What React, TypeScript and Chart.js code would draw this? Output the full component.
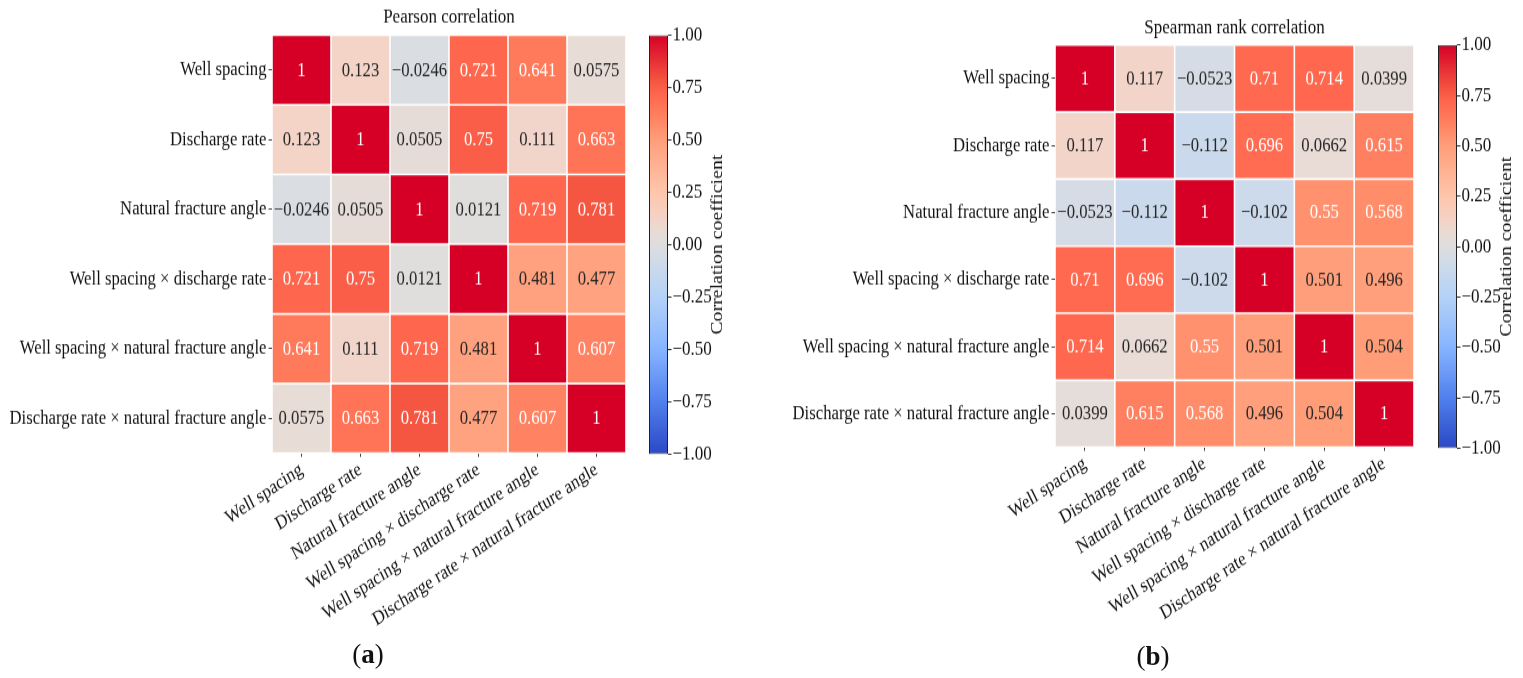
import React, { useEffect, useRef } from 'react';
import { Chart, registerables } from 'chart.js';

Chart.register(...registerables);

const FONT = '"Liberation Serif", "Times New Roman", serif';
Chart.defaults.font.family = FONT;

// ---------- data ----------
const variables = [
  'Well spacing',
  'Discharge rate',
  'Natural fracture angle',
  'Well spacing × discharge rate',
  'Well spacing × natural fracture angle',
  'Discharge rate × natural fracture angle',
];

const pearsonWellSpacing = [1, 0.123, -0.0246, 0.721, 0.641, 0.0575];
const pearsonDischarge = [0.123, 1, 0.0505, 0.75, 0.111, 0.663];
const pearsonFractureAngle = [-0.0246, 0.0505, 1, 0.0121, 0.719, 0.781];
const pearsonSpacingXDischarge = [0.721, 0.75, 0.0121, 1, 0.481, 0.477];
const pearsonSpacingXAngle = [0.641, 0.111, 0.719, 0.481, 1, 0.607];
const pearsonDischargeXAngle = [0.0575, 0.663, 0.781, 0.477, 0.607, 1];

const spearmanWellSpacing = [1, 0.117, -0.0523, 0.71, 0.714, 0.0399];
const spearmanDischarge = [0.117, 1, -0.112, 0.696, 0.0662, 0.615];
const spearmanFractureAngle = [-0.0523, -0.112, 1, -0.102, 0.55, 0.568];
const spearmanSpacingXDischarge = [0.71, 0.696, -0.102, 1, 0.501, 0.496];
const spearmanSpacingXAngle = [0.714, 0.0662, 0.55, 0.501, 1, 0.504];
const spearmanDischargeXAngle = [0.0399, 0.615, 0.568, 0.496, 0.504, 1];

const pearson = [
  pearsonWellSpacing,
  pearsonDischarge,
  pearsonFractureAngle,
  pearsonSpacingXDischarge,
  pearsonSpacingXAngle,
  pearsonDischargeXAngle,
];
const spearman = [
  spearmanWellSpacing,
  spearmanDischarge,
  spearmanFractureAngle,
  spearmanSpacingXDischarge,
  spearmanSpacingXAngle,
  spearmanDischargeXAngle,
];

const colorbarRange = [-1, 1];
const colorbarStep = 0.25;
const colorbarLabel = 'Correlation coefficient';

// ---------- colour map (coolwarm-like, as seen in the figure) ----------
const cmapStops: [number, number[]][] = [
  [-1.0, [43, 72, 196]],
  [-0.75, [80, 128, 238]],
  [-0.5, [135, 180, 255]],
  [-0.25, [180, 210, 248]],
  [-0.1, [204, 218, 235]],
  [0.0, [222, 222, 222]],
  [0.06, [232, 220, 214]],
  [0.12, [243, 212, 200]],
  [0.25, [255, 198, 172]],
  [0.5, [255, 158, 122]],
  [0.64, [255, 122, 90]],
  [0.72, [255, 102, 78]],
  [0.78, [245, 86, 66]],
  [1.0, [214, 0, 38]],
];

function colorFor(v: number): string {
  const x = Math.max(-1, Math.min(1, v));
  for (let i = 0; i < cmapStops.length - 1; i++) {
    const [a, ca] = cmapStops[i];
    const [b, cb] = cmapStops[i + 1];
    if (x >= a && x <= b) {
      const t = (x - a) / (b - a);
      const c = ca.map((k, j) => Math.round(k + (cb[j] - k) * t));
      return `rgb(${c[0]},${c[1]},${c[2]})`;
    }
  }
  const c = cmapStops[cmapStops.length - 1][1];
  return `rgb(${c[0]},${c[1]},${c[2]})`;
}

function fmtCell(v: number): string {
  return String(Number(v.toPrecision(3))).replace('-', '−');
}

function fmtTick(v: number): string {
  return v.toFixed(2).replace('-', '−');
}

// the original figure is stretched vertically; canvases are drawn compressed and stretched by CSS
const STRETCH = 1.19;
const CANVAS_H = 540;

// ---------- components ----------
type HeatGeom = {
  canvasLeft: number;
  canvasW: number;
  left: number;
  right: number;
  top: number;
  bottom: number;
  titleCenter: number;
};

function Heatmap({ title, matrix, g }: { title: string; matrix: number[][]; g: HeatGeom }) {
  const ref = useRef<HTMLCanvasElement>(null);
  useEffect(() => {
    const canvas = ref.current!;
    const titleSize = 17;
    const titleLH = titleSize * 1.2;
    const top = g.top / STRETCH;
    const bottom = g.bottom / STRETCH;
    const padTop = g.titleCenter / STRETCH - titleLH / 2;
    const padBottom = top - padTop - titleLH;

    const datasets = matrix.map((row, r) => ({
      label: variables[r],
      data: row.map(() => [r - 0.5, r + 0.5]),
      backgroundColor: row.map((v) => colorFor(v)),
      borderColor: '#ffffff',
      borderWidth: 0.8,
      borderSkipped: false,
      inflateAmount: 0,
      barPercentage: 1,
      categoryPercentage: 1,
      grouped: false,
    }));

    const cellLabels = {
      id: 'cellLabels',
      afterDatasetsDraw(chart: any) {
        const { ctx } = chart;
        const xs = chart.scales.x;
        const ys = chart.scales.y;
        ctx.save();
        ctx.font = `16.7px ${FONT}`;
        ctx.textAlign = 'center';
        ctx.textBaseline = 'middle';
        matrix.forEach((row, r) =>
          row.forEach((v, c) => {
            ctx.fillStyle = Math.abs(v) > 0.53 ? '#ffffff' : '#262626';
            ctx.fillText(fmtCell(v), xs.getPixelForValue(c), ys.getPixelForValue(r) + 0.5);
          })
        );
        ctx.restore();
      },
    };

    const chart = new Chart(canvas, {
      type: 'bar',
      data: { labels: variables, datasets: datasets as any },
      options: {
        responsive: false,
        animation: false,
        events: [],
        layout: { padding: { left: 0, right: g.canvasW - g.right, top: 0, bottom: 0 } },
        plugins: {
          legend: { display: false },
          tooltip: { enabled: false },
          title: {
            display: true,
            text: title,
            fullSize: false,
            color: '#111',
            font: { size: titleSize, weight: 'normal', lineHeight: 1.2 },
            padding: { top: padTop, bottom: padBottom },
          },
        },
        scales: {
          x: {
            type: 'category',
            offset: true,
            afterFit: (s: any) => {
              s.height = CANVAS_H - bottom;
            },
            ticks: {
              autoSkip: false,
              minRotation: 30,
              maxRotation: 30,
              color: '#111',
              padding: 1,
              font: { size: 16.7 },
            },
            grid: { offset: false, drawOnChartArea: false, tickLength: 3, color: '#444', lineWidth: 1 },
            border: { display: false },
          },
          y: {
            type: 'linear',
            reverse: true,
            min: -0.5,
            max: 5.5,
            afterBuildTicks: (s: any) => {
              s.ticks = variables.map((_, i) => ({ value: i }));
            },
            afterFit: (s: any) => {
              s.width = g.left;
            },
            ticks: {
              autoSkip: false,
              color: '#111',
              padding: 2,
              font: { size: 16.7 },
              callback: (v: any) => variables[Math.round(Number(v))],
            },
            grid: { drawOnChartArea: false, tickLength: 3.5, color: '#444', lineWidth: 1 },
            border: { display: false },
          },
        },
      } as any,
      plugins: [cellLabels],
    });
    return () => chart.destroy();
  }, [title, matrix, g]);
  return (
    <canvas
      ref={ref}
      width={g.canvasW}
      height={CANVAS_H}
      style={{
        position: 'absolute',
        left: g.canvasLeft,
        top: 0,
        width: g.canvasW,
        height: CANVAS_H * STRETCH,
        display: 'block',
      }}
    />
  );
}

type BarGeom = {
  canvasLeft: number;
  canvasW: number;
  left: number;
  right: number;
  top: number;
  bottom: number;
  axisW: number;
};

function Colorbar({ g }: { g: BarGeom }) {
  const ref = useRef<HTMLCanvasElement>(null);
  useEffect(() => {
    const canvas = ref.current!;
    const titlePlugin = {
      id: 'cbTitle',
      afterDraw(chart: any) {
        const { ctx, chartArea } = chart;
        const ys = chart.scales.y;
        ctx.save();
        ctx.font = `16.7px ${FONT}`;
        ctx.fillStyle = '#111';
        ctx.textAlign = 'center';
        ctx.textBaseline = 'middle';
        ctx.translate(ys.right - 10, (chartArea.top + chartArea.bottom) / 2);
        ctx.rotate(-Math.PI / 2);
        ctx.fillText(colorbarLabel, 0, 0);
        ctx.restore();
      },
    };
    const chart = new Chart(canvas, {
      type: 'bar',
      data: {
        labels: [''],
        datasets: [
          {
            data: [[colorbarRange[0], colorbarRange[1]]] as any,
            backgroundColor: (ctx: any) => {
              const c = ctx.chart;
              if (!c.chartArea) return '#ddd';
              const ys = c.scales.y;
              const y0 = ys.getPixelForValue(colorbarRange[0]);
              const y1 = ys.getPixelForValue(colorbarRange[1]);
              const grad = c.ctx.createLinearGradient(0, y0, 0, y1);
              const n = 80;
              for (let i = 0; i <= n; i++) {
                const v = colorbarRange[0] + ((colorbarRange[1] - colorbarRange[0]) * i) / n;
                grad.addColorStop(i / n, colorFor(v));
              }
              return grad;
            },
            borderColor: '#222',
            borderWidth: 1,
            borderSkipped: false,
            inflateAmount: 0,
            barPercentage: 1,
            categoryPercentage: 1,
          } as any,
        ],
      },
      options: {
        responsive: false,
        animation: false,
        events: [],
        layout: {
          padding: {
            left: g.left,
            right: g.canvasW - g.right - g.axisW,
            top: g.top / STRETCH,
            bottom: CANVAS_H - g.bottom / STRETCH,
          },
        },
        plugins: { legend: { display: false }, tooltip: { enabled: false }, title: { display: false } },
        scales: {
          x: { display: false },
          y: {
            type: 'linear',
            position: 'right',
            min: colorbarRange[0],
            max: colorbarRange[1],
            afterFit: (s: any) => {
              s.width = g.axisW;
            },
            ticks: {
              stepSize: colorbarStep,
              color: '#111',
              padding: 1,
              font: { size: 17 },
              callback: (v: any) => fmtTick(Number(v)),
            },
            grid: { drawOnChartArea: false, tickLength: 3.5, color: '#333', lineWidth: 1 },
            border: { display: false },
          },
        },
      } as any,
      plugins: [titlePlugin],
    });
    return () => chart.destroy();
  }, [g]);
  return (
    <canvas
      ref={ref}
      width={g.canvasW}
      height={CANVAS_H}
      style={{
        position: 'absolute',
        left: g.canvasLeft,
        top: 0,
        width: g.canvasW,
        height: CANVAS_H * STRETCH,
        display: 'block',
      }}
    />
  );
}

const geomA: HeatGeom = { canvasLeft: 0, canvasW: 640, left: 272, right: 626, top: 35, bottom: 453, titleCenter: 17 };
const geomB: HeatGeom = { canvasLeft: 760, canvasW: 680, left: 295, right: 654, top: 45, bottom: 447, titleCenter: 28 };
const barA: BarGeom = { canvasLeft: 640, canvasW: 120, left: 9, right: 28, top: 35, bottom: 454, axisW: 60 };
const barB: BarGeom = { canvasLeft: 1430, canvasW: 93, left: 8, right: 27, top: 45, bottom: 448, axisW: 60 };

function Caption({ letter, cx, cy }: { letter: string; cx: number; cy: number }) {
  return (
    <div
      style={{
        position: 'absolute',
        left: cx - 50,
        top: cy - 15,
        width: 100,
        height: 30,
        lineHeight: '30px',
        textAlign: 'center',
        fontFamily: FONT,
        fontSize: 27,
        color: '#111',
      }}
    >
      (<b>{letter}</b>)
    </div>
  );
}

export default function App() {
  return (
    <div style={{ position: 'absolute', left: 0, top: 0, width: 1523, height: 678, background: '#ffffff', overflow: 'hidden' }}>
      <Heatmap title="Pearson correlation" matrix={pearson} g={geomA} />
      <Colorbar g={barA} />
      <Heatmap title="Spearman rank correlation" matrix={spearman} g={geomB} />
      <Colorbar g={barB} />
      <Caption letter="a" cx={368} cy={654} />
      <Caption letter="b" cx={1153} cy={656} />
    </div>
  );
}
